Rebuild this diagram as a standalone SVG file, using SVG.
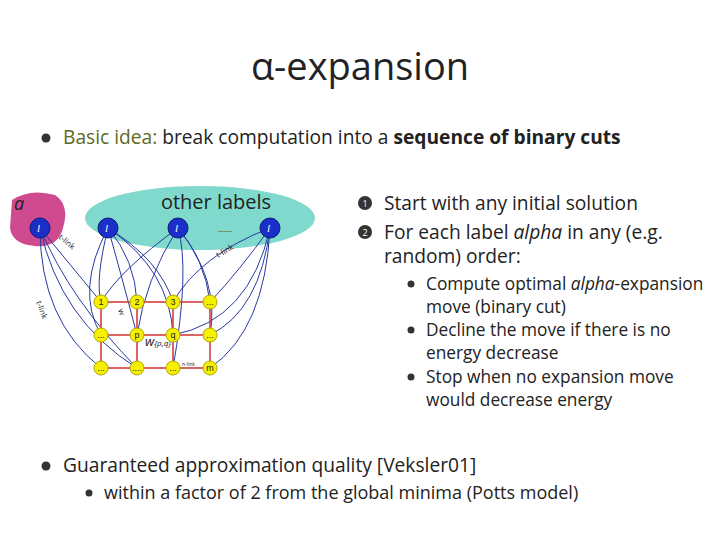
<svg xmlns="http://www.w3.org/2000/svg" width="720" height="540" viewBox="0 0 720 540">
<style>
text{font-family:"Open Sans","Liberation Sans",sans-serif;fill:#222}
.b{font-size:19.2px}
.s{font-size:17.3px}
.lab{fill:#1a2fc8;stroke:#0d1a7a;stroke-width:1}
.lt{font-family:"Liberation Serif",serif;font-style:italic;font-size:11px;fill:#fff}
.g{fill:#f4f000;stroke:#b0a800;stroke-width:1}
.gt{font-family:"Liberation Sans",sans-serif;font-size:9px;fill:#222}
.c path{fill:none;stroke:#2a3aa0;stroke-width:1}
.e line{stroke:#d03030;stroke-width:1.5}
.bul{fill:#333}
.num{fill:#333}
</style>
<rect width="720" height="540" fill="#fff"/>
<text x="360" y="80" font-size="38" text-anchor="middle">α-expansion</text>
<circle class="bul" cx="46" cy="138" r="4.5"/>
<text x="63" y="144" class="b"><tspan fill="#5e6a22">Basic idea:</tspan> break computation into a <tspan font-weight="bold">sequence of binary cuts</tspan></text>

<g id="regions">
<path d="M12,200 Q30,188 55,195 Q70,205 63,228 Q58,248 35,246 Q12,244 10,228 Z" fill="#d04a90"/>
<text x="14" y="210" font-size="18" font-style="italic" fill="#222">a</text>
<ellipse cx="200" cy="218" rx="115" ry="32" fill="#7fd9cc"/>
<text x="216" y="209" font-size="20" text-anchor="middle">other labels</text>
<text x="225" y="232" font-size="8" text-anchor="middle">.......</text>
</g>

<g class="c">
<path d="M40,228 L101,302"/><path d="M40,228 Q40,320 101,368"/><path d="M40,228 Q60,320 137,368"/><path d="M40,228 Q70,300 137,368"/>
<path d="M108,228 Q75,290 101,335"/><path d="M108,228 Q95,280 101,302"/><path d="M108,228 Q120,270 137,335"/><path d="M108,228 Q135,260 137,302"/><path d="M108,228 Q160,260 173,302"/><path d="M108,228 Q170,270 173,335"/>
<path d="M178,228 Q120,270 101,302"/><path d="M178,228 Q145,280 137,335"/><path d="M178,228 Q190,270 173,368"/><path d="M178,228 Q205,260 210,302"/><path d="M178,228 Q220,280 210,335"/>
<path d="M270,228 Q200,255 173,302"/><path d="M270,228 Q250,320 173,335"/><path d="M270,228 Q260,310 210,335"/><path d="M270,228 Q265,330 210,368"/><path d="M270,228 Q240,270 210,302"/>
</g>
<g font-family="Liberation Sans,sans-serif" font-size="8" fill="#2a3aa0">
<text x="58" y="238" transform="rotate(40 58 238)">t-link</text>
<text x="36" y="302" transform="rotate(70 36 302)">t-link</text>
<text x="218" y="258" transform="rotate(-30 218 258)">t-link</text>
<text x="118" y="310" transform="rotate(70 118 310)">w</text>
</g>
<g class="e">
<line x1="101" y1="302" x2="210" y2="302"/><line x1="101" y1="335" x2="210" y2="335"/><line x1="101" y1="368" x2="210" y2="368"/>
<line x1="101" y1="302" x2="101" y2="368"/><line x1="137" y1="302" x2="137" y2="368"/><line x1="173" y1="302" x2="173" y2="368"/><line x1="210" y1="302" x2="210" y2="368"/>
</g>
<text x="145" y="346" font-family="Liberation Serif,serif" font-style="italic" font-size="13" fill="#c03030">w<tspan font-size="8">{p,q}</tspan></text>
<text x="182" y="366" font-family="Liberation Sans,sans-serif" font-size="5" fill="#555">n-link</text>

<g id="l1"><circle class="lab" cx="40" cy="228" r="10"/><text class="lt" x="37" y="232">l</text></g>
<g id="l2"><circle class="lab" cx="108" cy="228" r="10"/><text class="lt" x="105" y="232">l</text></g>
<g id="l3"><circle class="lab" cx="178" cy="228" r="10"/><text class="lt" x="175" y="232">l</text></g>
<g id="l4"><circle class="lab" cx="270" cy="228" r="10"/><text class="lt" x="267" y="232">l</text></g>

<g id="grid" text-anchor="middle">
<circle class="g" cx="101" cy="302" r="7"/><text class="gt" x="101" y="305">1</text>
<circle class="g" cx="137" cy="302" r="7"/><text class="gt" x="137" y="305">2</text>
<circle class="g" cx="173" cy="302" r="7"/><text class="gt" x="173" y="305">3</text>
<circle class="g" cx="210" cy="302" r="7"/><text class="gt" x="210" y="305">...</text>
<circle class="g" cx="101" cy="335" r="7"/><text class="gt" x="101" y="338">...</text>
<circle class="g" cx="137" cy="335" r="7"/><text class="gt" x="137" y="338">p</text>
<circle class="g" cx="173" cy="335" r="7"/><text class="gt" x="173" y="338">q</text>
<circle class="g" cx="210" cy="335" r="7"/><text class="gt" x="210" y="338">...</text>
<circle class="g" cx="101" cy="368" r="7"/><text class="gt" x="101" y="371">...</text>
<circle class="g" cx="137" cy="368" r="7"/><text class="gt" x="137" y="371">....</text>
<circle class="g" cx="173" cy="368" r="7"/><text class="gt" x="173" y="371">...</text>
<circle class="g" cx="210" cy="368" r="7"/><text class="gt" x="210" y="371">m</text>
</g>

<g id="steps">
<circle class="num" cx="365" cy="203" r="7"/><text x="365" y="207" font-size="9" text-anchor="middle" style="fill:#fff">1</text>
<text x="384" y="210" class="b">Start with any initial solution</text>
<circle class="num" cx="365" cy="232" r="7"/><text x="365" y="236" font-size="9" text-anchor="middle" style="fill:#fff">2</text>
<text x="384" y="239" class="b">For each label <tspan font-style="italic">alpha</tspan> in any (e.g.</text>
<text x="384" y="263" class="b">random) order:</text>
<circle class="bul" cx="411" cy="284" r="3.5"/>
<text x="426" y="290" class="s">Compute optimal <tspan font-style="italic">alpha</tspan>-expansion</text>
<text x="426" y="313" class="s">move (binary cut)</text>
<circle class="bul" cx="411" cy="330" r="3.5"/>
<text x="426" y="336" class="s">Decline the move if there is no</text>
<text x="426" y="359" class="s">energy decrease</text>
<circle class="bul" cx="411" cy="377" r="3.5"/>
<text x="426" y="383" class="s">Stop when no expansion move</text>
<text x="426" y="406" class="s">would decrease energy</text>
</g>

<circle class="bul" cx="46" cy="466" r="4.5"/>
<text x="63" y="472" class="b">Guaranteed approximation quality [Veksler01]</text>
<circle class="bul" cx="89" cy="493" r="3.5"/>
<text x="104" y="499" class="s" style="font-size:18px">within a factor of 2 from the global minima (Potts model)</text>
</svg>
